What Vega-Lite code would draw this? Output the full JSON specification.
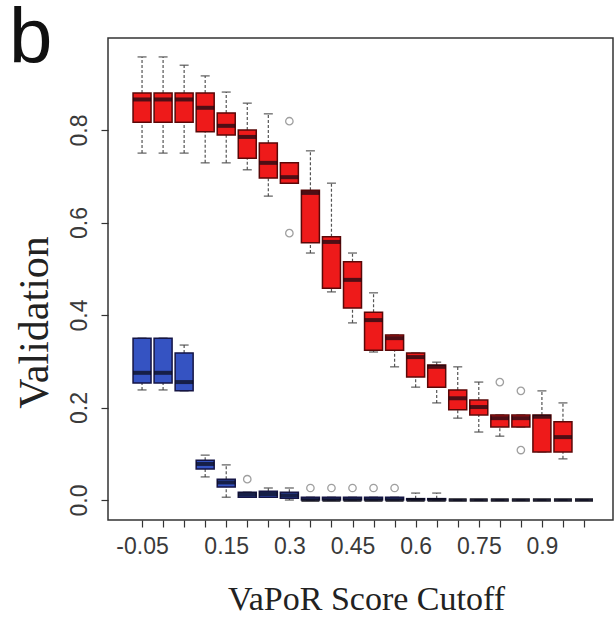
{
  "$schema": "https://vega.github.io/schema/vega-lite/v6.json",
  "autosize": "none",
  "width": 505,
  "height": 482,
  "padding": {"left": 108, "top": 38, "right": 1, "bottom": 103},
  "background": "white",
  "config": {
    "view": {"stroke": "#333333", "strokeWidth": 1.5},
    "axis": {"grid": false, "domain": false, "tickColor": "#333333", "tickSize": 7, "tickWidth": 1.2, "labelOverlap": false,
             "labelFont": "Liberation Sans", "labelFontSize": 23, "labelColor": "#3a3a3a",
             "titleFont": "Liberation Serif", "titleFontWeight": "normal", "titleColor": "#222222"}
  },
  "title": {"text": "b", "anchor": "start", "frame": "group", "font": "Liberation Sans", "fontSize": 78, "fontWeight": "normal", "color": "#111111", "baseline": "top", "offset": 0, "dx": -99, "dy": 41},
  "datasets": {
    "boxes": [
      {"g": "red", "cutoff": -0.05, "lo": 0.75, "q1": 0.817, "med": 0.866, "q3": 0.88, "hi": 0.958},
      {"g": "red", "cutoff": 0.0, "lo": 0.75, "q1": 0.817, "med": 0.866, "q3": 0.88, "hi": 0.958},
      {"g": "red", "cutoff": 0.05, "lo": 0.75, "q1": 0.817, "med": 0.866, "q3": 0.88, "hi": 0.94},
      {"g": "red", "cutoff": 0.1, "lo": 0.729, "q1": 0.796, "med": 0.848, "q3": 0.88, "hi": 0.917},
      {"g": "red", "cutoff": 0.15, "lo": 0.729, "q1": 0.789, "med": 0.809, "q3": 0.837, "hi": 0.882},
      {"g": "red", "cutoff": 0.2, "lo": 0.714, "q1": 0.739, "med": 0.785, "q3": 0.8, "hi": 0.858},
      {"g": "red", "cutoff": 0.25, "lo": 0.657, "q1": 0.696, "med": 0.729, "q3": 0.772, "hi": 0.835},
      {"g": "red", "cutoff": 0.3, "lo": 0.685, "q1": 0.685, "med": 0.698, "q3": 0.729, "hi": 0.729},
      {"g": "red", "cutoff": 0.35, "lo": 0.534, "q1": 0.556, "med": 0.664, "q3": 0.67, "hi": 0.755},
      {"g": "red", "cutoff": 0.4, "lo": 0.45, "q1": 0.458, "med": 0.558, "q3": 0.569, "hi": 0.685},
      {"g": "red", "cutoff": 0.45, "lo": 0.383, "q1": 0.415, "med": 0.476, "q3": 0.515, "hi": 0.534},
      {"g": "red", "cutoff": 0.5, "lo": 0.32, "q1": 0.324, "med": 0.389, "q3": 0.406, "hi": 0.448},
      {"g": "red", "cutoff": 0.55, "lo": 0.288, "q1": 0.324, "med": 0.35, "q3": 0.357, "hi": 0.357},
      {"g": "red", "cutoff": 0.6, "lo": 0.244, "q1": 0.266, "med": 0.309, "q3": 0.318, "hi": 0.318},
      {"g": "red", "cutoff": 0.65, "lo": 0.21, "q1": 0.244, "med": 0.288, "q3": 0.292, "hi": 0.298},
      {"g": "red", "cutoff": 0.7, "lo": 0.177, "q1": 0.195, "med": 0.22, "q3": 0.238, "hi": 0.288},
      {"g": "red", "cutoff": 0.75, "lo": 0.147, "q1": 0.184, "med": 0.201, "q3": 0.216, "hi": 0.255},
      {"g": "red", "cutoff": 0.8, "lo": 0.138, "q1": 0.158, "med": 0.177, "q3": 0.184, "hi": 0.184},
      {"g": "red", "cutoff": 0.85, "lo": 0.158, "q1": 0.158, "med": 0.177, "q3": 0.184, "hi": 0.184},
      {"g": "red", "cutoff": 0.9, "lo": 0.104, "q1": 0.104, "med": 0.18, "q3": 0.184, "hi": 0.236},
      {"g": "red", "cutoff": 0.95, "lo": 0.089, "q1": 0.104, "med": 0.136, "q3": 0.169, "hi": 0.21},
      {"g": "blue", "cutoff": -0.05, "lo": 0.238, "q1": 0.253, "med": 0.275, "q3": 0.35, "hi": 0.35},
      {"g": "blue", "cutoff": 0.0, "lo": 0.238, "q1": 0.253, "med": 0.275, "q3": 0.35, "hi": 0.35},
      {"g": "blue", "cutoff": 0.05, "lo": 0.236, "q1": 0.236, "med": 0.255, "q3": 0.318, "hi": 0.335},
      {"g": "blue", "cutoff": 0.1, "lo": 0.05, "q1": 0.067, "med": 0.078, "q3": 0.086, "hi": 0.097},
      {"g": "blue", "cutoff": 0.15, "lo": 0.006, "q1": 0.028, "med": 0.038, "q3": 0.045, "hi": 0.076},
      {"g": "blue", "cutoff": 0.2, "lo": 0.006, "q1": 0.006, "med": 0.012, "q3": 0.017, "hi": 0.017},
      {"g": "blue", "cutoff": 0.25, "lo": 0.006, "q1": 0.006, "med": 0.013, "q3": 0.019, "hi": 0.026},
      {"g": "blue", "cutoff": 0.3, "lo": 0.0, "q1": 0.004, "med": 0.01, "q3": 0.017, "hi": 0.026},
      {"g": "blue", "cutoff": 0.35, "lo": 0.0, "q1": 0.0, "med": 0.0, "q3": 0.006, "hi": 0.006},
      {"g": "blue", "cutoff": 0.4, "lo": 0.0, "q1": 0.0, "med": 0.0, "q3": 0.006, "hi": 0.006},
      {"g": "blue", "cutoff": 0.45, "lo": 0.0, "q1": 0.0, "med": 0.0, "q3": 0.006, "hi": 0.006},
      {"g": "blue", "cutoff": 0.5, "lo": 0.0, "q1": 0.0, "med": 0.0, "q3": 0.006, "hi": 0.006},
      {"g": "blue", "cutoff": 0.55, "lo": 0.0, "q1": 0.0, "med": 0.0, "q3": 0.006, "hi": 0.006},
      {"g": "blue", "cutoff": 0.6, "lo": 0.0, "q1": 0.0, "med": 0.0, "q3": 0.003, "hi": 0.015},
      {"g": "blue", "cutoff": 0.65, "lo": 0.0, "q1": 0.0, "med": 0.0, "q3": 0.003, "hi": 0.015},
      {"g": "blue", "cutoff": 0.7, "lo": 0.0, "q1": 0.0, "med": 0.0, "q3": 0.0, "hi": 0.0},
      {"g": "blue", "cutoff": 0.75, "lo": 0.0, "q1": 0.0, "med": 0.0, "q3": 0.0, "hi": 0.0},
      {"g": "blue", "cutoff": 0.8, "lo": 0.0, "q1": 0.0, "med": 0.0, "q3": 0.0, "hi": 0.0},
      {"g": "blue", "cutoff": 0.85, "lo": 0.0, "q1": 0.0, "med": 0.0, "q3": 0.0, "hi": 0.0},
      {"g": "blue", "cutoff": 0.9, "lo": 0.0, "q1": 0.0, "med": 0.0, "q3": 0.0, "hi": 0.0},
      {"g": "blue", "cutoff": 0.95, "lo": 0.0, "q1": 0.0, "med": 0.0, "q3": 0.0, "hi": 0.0},
      {"g": "blue", "cutoff": 1.0, "lo": 0.0, "q1": 0.0, "med": 0.0, "q3": 0.0, "hi": 0.0}
    ],
    "outliers": [
      {"g": "red", "cutoff": 0.3, "v": 0.819},
      {"g": "red", "cutoff": 0.3, "v": 0.577},
      {"g": "red", "cutoff": 0.8, "v": 0.255},
      {"g": "red", "cutoff": 0.85, "v": 0.236},
      {"g": "red", "cutoff": 0.85, "v": 0.108},
      {"g": "blue", "cutoff": 0.2, "v": 0.045},
      {"g": "blue", "cutoff": 0.35, "v": 0.026},
      {"g": "blue", "cutoff": 0.4, "v": 0.026},
      {"g": "blue", "cutoff": 0.45, "v": 0.026},
      {"g": "blue", "cutoff": 0.5, "v": 0.026},
      {"g": "blue", "cutoff": 0.55, "v": 0.026}
    ]
  },
  "layer": [
    {
      "data": {"name": "boxes"},
      "mark": {"type": "rule", "strokeDash": [3, 2], "color": "#555555", "strokeWidth": 1.2},
      "encoding": {
        "x": {"field": "cutoff", "type": "quantitative",
              "scale": {"domain": [-0.119, 1.057], "nice": false, "zero": false},
              "axis": {"values": [-0.05, 0, 0.05, 0.1, 0.15, 0.2, 0.25, 0.3, 0.35, 0.4, 0.45, 0.5, 0.55, 0.6, 0.65, 0.7, 0.75, 0.8, 0.85, 0.9, 0.95, 1.0],
                       "tickCount": 40, "labelOverlap": false, "labelPadding": 8, "labelFlush": false,
                       "labelExpr": "datum.value == -0.05 ? '-0.05' : ((datum.value == 0.15 || datum.value == 0.3 || datum.value == 0.45 || datum.value == 0.6 || datum.value == 0.75 || datum.value == 0.9) ? format(datum.value, '~g') : '')",
                       "title": "VaPoR Score Cutoff", "titleFontSize": 34, "titlePadding": 24, "titleX": 258}},
        "y": {"field": "lo", "type": "quantitative",
              "scale": {"domain": [-0.0432, 0.9989], "nice": false, "zero": false},
              "axis": {"values": [0, 0.2, 0.4, 0.6, 0.8], "format": ".1f", "labelAngle": 270, "labelAlign": "center", "labelBaseline": "bottom", "labelPadding": 10,
                       "title": "Validation", "titleFontSize": 42, "titlePadding": 12, "titleY": 284}},
        "y2": {"field": "q1"}
      }
    },
    {
      "data": {"name": "boxes"},
      "mark": {"type": "rule", "strokeDash": [3, 2], "color": "#555555", "strokeWidth": 1.2},
      "encoding": {
        "x": {"field": "cutoff", "type": "quantitative"},
        "y": {"field": "q3", "type": "quantitative"},
        "y2": {"field": "hi"}
      }
    },
    {
      "data": {"name": "boxes"},
      "mark": {"type": "tick", "orient": "horizontal", "size": 9, "thickness": 1.5, "color": "#444444"},
      "encoding": {
        "x": {"field": "cutoff", "type": "quantitative"},
        "y": {"field": "lo", "type": "quantitative"}
      }
    },
    {
      "data": {"name": "boxes"},
      "mark": {"type": "tick", "orient": "horizontal", "size": 9, "thickness": 1.5, "color": "#444444"},
      "encoding": {
        "x": {"field": "cutoff", "type": "quantitative"},
        "y": {"field": "hi", "type": "quantitative"}
      }
    },
    {
      "data": {"name": "boxes"},
      "mark": {"type": "bar", "width": 18, "strokeWidth": 1.5},
      "encoding": {
        "x": {"field": "cutoff", "type": "quantitative"},
        "y": {"field": "q1", "type": "quantitative"},
        "y2": {"field": "q3"},
        "fill": {"field": "g", "type": "nominal", "scale": {"domain": ["blue", "red"], "range": ["#3553c2", "#ee1a1a"]}, "legend": null},
        "stroke": {"field": "g", "type": "nominal", "scale": {"domain": ["blue", "red"], "range": ["#151545", "#5a0808"]}, "legend": null}
      }
    },
    {
      "data": {"name": "boxes"},
      "mark": {"type": "tick", "orient": "horizontal", "size": 18, "thickness": 4, "color": "#0a0a14"},
      "encoding": {
        "x": {"field": "cutoff", "type": "quantitative"},
        "y": {"field": "med", "type": "quantitative"}
      }
    },
    {
      "data": {"name": "outliers"},
      "mark": {"type": "point", "filled": false, "size": 55, "strokeWidth": 1.3, "color": "#777777"},
      "encoding": {
        "x": {"field": "cutoff", "type": "quantitative"},
        "y": {"field": "v", "type": "quantitative"}
      }
    }
  ]
}
